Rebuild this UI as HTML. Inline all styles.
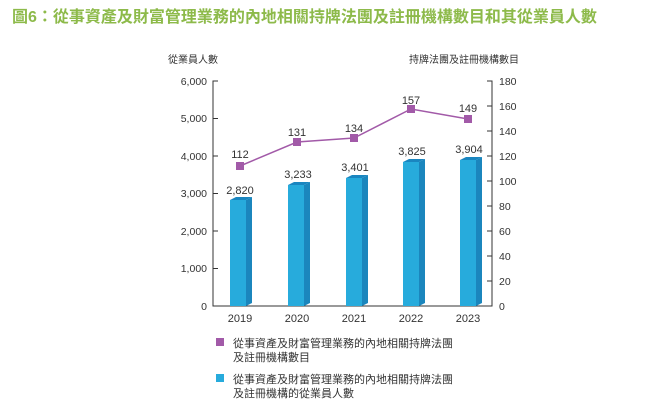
<!DOCTYPE html>
<html><head><meta charset="utf-8"><style>
body{margin:0;background:#fff;width:660px;height:406px;overflow:hidden;font-family:"Liberation Sans","Noto Sans CJK TC",sans-serif;}
</style></head><body>
<svg width="660" height="406" xmlns="http://www.w3.org/2000/svg" font-family="Liberation Sans, Noto Sans CJK TC, sans-serif">
<text x="12" y="22" font-size="16" font-weight="bold" fill="#8dba4a">圖6：從事資產及財富管理業務的內地相關持牌法團及註冊機構數目和其從業員人數</text>
<text x="168" y="63" font-size="10" fill="#333">從業員人數</text>
<text x="409" y="63" font-size="10" fill="#333">持牌法團及註冊機構數目</text>
<g stroke="#333" stroke-width="1" fill="none">
<path d="M218 81H213V306H492V81H487"/>
<path d="M213 118.5h5M213 156h5M213 193.5h5M213 231h5M213 268.5h5"/>
<path d="M492 106h-5M492 131h-5M492 156h-5M492 181h-5M492 206h-5M492 231h-5M492 256h-5M492 281h-5"/>
</g>
<g font-size="10.5" fill="#333" text-anchor="end">
<text x="207" y="85">6,000</text><text x="207" y="122">5,000</text><text x="207" y="160">4,000</text><text x="207" y="197">3,000</text><text x="207" y="235">2,000</text><text x="207" y="272">1,000</text><text x="207" y="310">0</text>
</g>
<g font-size="10.5" fill="#333">
<text x="499" y="85">180</text><text x="499" y="110">160</text><text x="499" y="135">140</text><text x="499" y="160">120</text><text x="499" y="185">100</text><text x="499" y="210">80</text><text x="499" y="235">60</text><text x="499" y="260">40</text><text x="499" y="285">20</text><text x="499" y="310">0</text>
</g>
<g>
<!-- bars: front x, top y -->
<g>
<polygon points="230,200 236,197 252,197 246,200" fill="#1a86c0"/>
<rect x="230" y="200" width="16" height="106" fill="#27abdc"/>
<polygon points="246,200 252,197 252,303 246,306" fill="#1b86bd"/>
</g>
<g>
<polygon points="288,185 294,182 310,182 304,185" fill="#1a86c0"/>
<rect x="288" y="185" width="16" height="121" fill="#27abdc"/>
<polygon points="304,185 310,182 310,303 304,306" fill="#1b86bd"/>
</g>
<g>
<polygon points="346,178 352,175 368,175 362,178" fill="#1a86c0"/>
<rect x="346" y="178" width="16" height="128" fill="#27abdc"/>
<polygon points="362,178 368,175 368,303 362,306" fill="#1b86bd"/>
</g>
<g>
<polygon points="403,162 409,159 425,159 419,162" fill="#1a86c0"/>
<rect x="403" y="162" width="16" height="144" fill="#27abdc"/>
<polygon points="419,162 425,159 425,303 419,306" fill="#1b86bd"/>
</g>
<g>
<polygon points="460,160 466,157 482,157 476,160" fill="#1a86c0"/>
<rect x="460" y="160" width="16" height="146" fill="#27abdc"/>
<polygon points="476,160 482,157 482,303 476,306" fill="#1b86bd"/>
</g>
</g>
<g font-size="11" fill="#333" text-anchor="middle">
<text x="240" y="194">2,820</text><text x="298" y="178">3,233</text><text x="355" y="171">3,401</text><text x="412" y="155">3,825</text><text x="469" y="153">3,904</text>
<text x="240" y="158">112</text><text x="297" y="136">131</text><text x="354" y="132">134</text><text x="411" y="104">157</text><text x="468" y="112">149</text>
</g>
<polyline points="240,166 297,142 354,138 411,109 468,119" fill="none" stroke="#a25aa8" stroke-width="1.5"/>
<g fill="#a25aa8">
<rect x="236" y="162" width="8" height="8"/><rect x="293" y="138" width="8" height="8"/><rect x="350" y="134" width="8" height="8"/><rect x="407" y="105" width="8" height="8"/><rect x="464" y="115" width="8" height="8"/>
</g>
<g font-size="11" fill="#333" text-anchor="middle">
<text x="240" y="322">2019</text><text x="297" y="322">2020</text><text x="354" y="322">2021</text><text x="411" y="322">2022</text><text x="468" y="322">2023</text>
</g>
<rect x="216" y="338" width="8" height="8" fill="#a25aa8"/>
<rect x="216" y="374" width="8" height="8" fill="#27abdc"/>
<g font-size="11" fill="#333">
<text x="233" y="347">從事資產及財富管理業務的內地相關持牌法團</text>
<text x="233" y="361">及註冊機構數目</text>
<text x="233" y="383">從事資產及財富管理業務的內地相關持牌法團</text>
<text x="233" y="397">及註冊機構的從業員人數</text>
</g>
</svg>
</body></html>
